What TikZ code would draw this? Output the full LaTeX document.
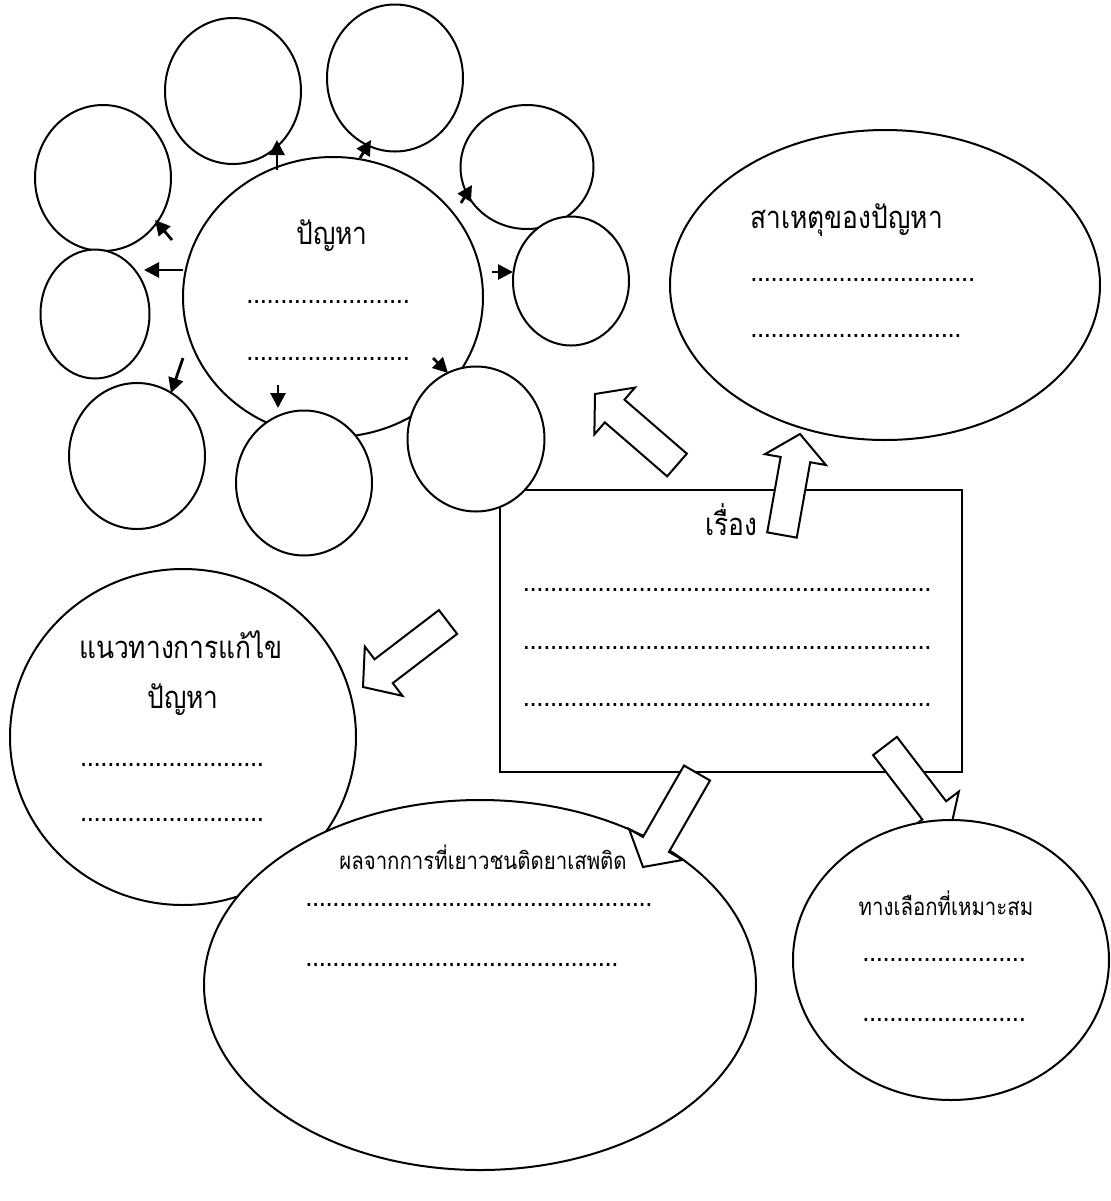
\documentclass[tikz,border=0pt]{standalone}
\usepackage{fontspec}
\newfontfamily\thaifont[Script=Thai, FakeStretch=0.85]{Loma}
\usetikzlibrary{shapes.geometric, arrows.meta, calc}

\tikzset{
  bubble/.style={draw, ellipse, line width=1pt, fill=white, inner sep=0pt},
  smallarrow/.style={line width=1.4pt, -{Triangle[length=7.5pt,width=7.5pt]}},
  blockarrow/.style={draw, line width=1pt, fill=white, line join=miter},
  bigtext/.style={font=\thaifont\fontsize{15.5}{18}\selectfont, inner sep=0pt},
  smalltext/.style={font=\thaifont\fontsize{12}{14}\selectfont, inner sep=0pt},
  dotline/.style={font=\thaifont\fontsize{15}{17}\selectfont, inner sep=0pt},
}
\newcommand{\dotrow}[1]{\foreach \dotk in {1,...,#1}{\makebox[3.4pt]{.}}}
\newcommand{\blockarrow}[2]{%
  \coordinate (neck) at ($(#2)!13pt!(#1)$);
  \draw[blockarrow] ($(#1)!7.5pt!90:(#2)$) -- ($(neck)!7.5pt!90:(#2)$)
    -- ($(neck)!15.5pt!90:(#2)$) -- (#2) -- ($(neck)!15.5pt!-90:(#2)$)
    -- ($(neck)!7.5pt!-90:(#2)$) -- ($(#1)!7.5pt!-90:(#2)$) -- cycle;}

\begin{document}
\begin{tikzpicture}[x=0.5pt, y=-0.5pt]
\useasboundingbox (0,0) rectangle (1110,1201);

% Story box
\draw[line width=1pt] (500,490) rectangle (962,772);
\node[bigtext] (story) at (731,520) {เรื่อง};
\foreach \y [count=\i] in {590,648,705}
  \node[dotline] (storydots\i) at (727,\y) {\dotrow{60}};

% Problem circle and its small circles
\node[bubble, minimum width=150pt, minimum height=140pt] (main) at (333,297) {};
\node[bubble, minimum width=68pt, minimum height=73pt] (c1) at (103,178) {};
\node[bubble, minimum width=68pt, minimum height=73pt] (c2) at (233,91) {};
\node[bubble, minimum width=68pt, minimum height=73.5pt] (c3) at (395,78) {};
\node[bubble, minimum width=66.5pt, minimum height=62pt] (c4) at (527,167) {};
\node[bubble, minimum width=58pt, minimum height=64.5pt] (c5) at (571,281) {};
\node[bubble, minimum width=68.5pt, minimum height=72.5pt] (c6) at (476,439) {};
\node[bubble, minimum width=68pt, minimum height=72.5pt] (c7) at (304,483) {};
\node[bubble, minimum width=68pt, minimum height=73pt] (c8) at (137,456) {};
\node[bubble, minimum width=54.5pt, minimum height=64.5pt] (c9) at (95,314) {};

\node[bigtext] (problem) at (332,236) {ปัญหา};
\node[dotline] (problemdots1) at (328,302) {\dotrow{24}};
\node[dotline] (problemdots2) at (328,359) {\dotrow{24}};

% Small arrows
\foreach \sx/\sy/\ex/\ey [count=\i] in {277/170/277/140, 360/158/371/140,
    461/203/472/185, 172/240/155/220, 183/270/144/270, 492/272/513/272,
    183/358/171/393, 278/385/278/408, 433/358/448/373}{
  \coordinate (s\i) at (\sx,\sy);
  \coordinate (e\i) at (\ex,\ey);
  \draw[smallarrow] (s\i) -- (e\i);
}

% Block arrows
\coordinate (a1t) at (677,465); \coordinate (a1h) at (595,394);
\coordinate (a2t) at (782,535); \coordinate (a2h) at (800,434);
\coordinate (a3t) at (448,622); \coordinate (a3h) at (363,687);
\coordinate (a4t) at (697,773); \coordinate (a4h) at (643,867);
\coordinate (a5t) at (885,746); \coordinate (a5h) at (950,831);
\blockarrow{a1t}{a1h}
\blockarrow{a2t}{a2h}
\blockarrow{a3t}{a3h}
\blockarrow{a5t}{a5h}

% Causes
\node[bubble, minimum width=215pt, minimum height=155pt] (cause) at (885,285) {};
\node[bigtext, anchor=west] (causetitle) at (750,220) {สาเหตุของปัญหา};
\node[dotline, anchor=west] (causedots1) at (750,280) {\dotrow{33}};
\node[dotline, anchor=west] (causedots2) at (750,336) {\dotrow{31}};

% Solutions
\node[bubble, minimum width=173pt, minimum height=168pt] (solution) at (183,737) {};
\node[bigtext] (solutiontitle1) at (181,645) {แนวทางการแก้ไข};
\node[bigtext] (solutiontitle2) at (183,700) {ปัญหา};
\node[dotline] (solutiondots1) at (172,765) {\dotrow{27}};
\node[dotline] (solutiondots2) at (172,820) {\dotrow{27}};

% Effects
\node[bubble, minimum width=276pt, minimum height=185pt] (effect) at (480,985) {};
\node[smalltext] (effecttitle) at (483,857) {ผลจากการที่เยาวชนติดยาเสพติด};
\node[dotline, anchor=west] (effectdots1) at (305,905) {\dotrow{51}};
\node[dotline, anchor=west] (effectdots2) at (305,965) {\dotrow{46}};
\blockarrow{a4t}{a4h}

% Choices
\node[bubble, minimum width=158pt, minimum height=140pt] (choice) at (951,960) {};
\node[smalltext] (choicetitle) at (946,903) {ทางเลือกที่เหมาะสม};
\node[dotline, anchor=west] (choicedots1) at (862,960) {\dotrow{24}};
\node[dotline, anchor=west] (choicedots2) at (862,1020) {\dotrow{24}};

\end{tikzpicture}
\end{document}
